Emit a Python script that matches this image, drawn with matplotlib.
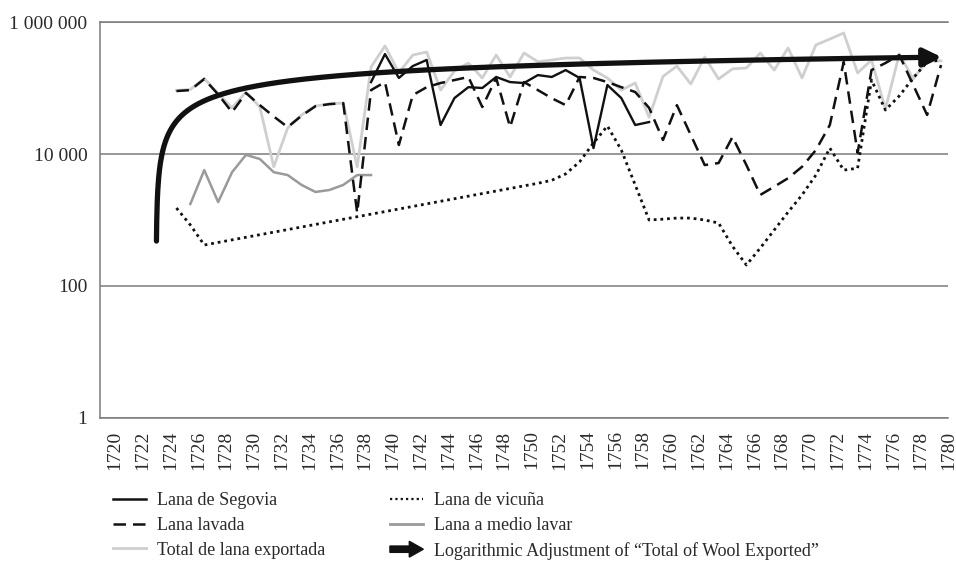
import numpy as np
import matplotlib
matplotlib.use('Agg')
import matplotlib.pyplot as plt
import matplotlib.patches as mpatches
from matplotlib.lines import Line2D
from matplotlib.legend_handler import HandlerPatch
from matplotlib.transforms import ScaledTranslation
from matplotlib.ticker import FixedLocator, NullLocator

plt.rcParams['font.family'] = ['Liberation Serif', 'DejaVu Serif']

# values (log scale, rough estimates)
years_lavada = list(range(1725, 1781))
lana_lavada = [90000, 93000, 137000, 80000, 43000, 84000, 55000, 37000, 25600, 38000,
               53000, 57000, 59000, 1280, 93000, 123000, 13700, 78000, 103000, 119000,
               132000, 147000, 51500, 142000, 25600, 123000, 93000, 70000, 55000, 147000,
               142000, 123000, 103000, 87000, 50000, 16300, 55000, 19400, 6800, 7300,
               18100, 6800, 2400, 3200, 4300, 6400, 11500, 27500, 248000, 10400,
               187000, 239000, 316000, 111000, 39000, 223000]

years_total = list(range(1725, 1781))
total_lana = [92000, 95000, 140000, 82000, 50000, 87000, 51500, 6400, 24800, 39000,
              53400, 57300, 59300, 6400, 208000, 434000, 170000, 316000, 351000, 93000,
              181000, 239000, 142000, 316000, 147000, 339000, 250000, 266000, 285000, 285000,
              187000, 142000, 93000, 119000, 36000, 150000, 215000, 115000, 295000, 137000,
              195000, 201000, 339000, 187000, 404000, 142000, 449000, 552000, 681000, 169000,
              266000, 48000, 327000, 137000, 258000, 258000]

years_segovia = list(range(1739, 1760))
lana_segovia = [123000, 327000, 142000, 215000, 266000, 27500, 70500, 103000, 100000, 147000,
                123000, 119000, 157000, 147000, 187000, 142000, 12300, 111000, 70500, 27500,
                30500]

years_medio = list(range(1726, 1740))
lana_medio = [1750, 5700, 1870, 5300, 9700, 8400, 5300, 4800, 3400, 2660,
              2850, 3400, 4800, 4800]

years_vicuna = [1725, 1726, 1727] + list(range(1751, 1781))
lana_vicuna = [1520, 840, 418,
               3600, 4000, 5000, 7600, 14700, 26600, 11500, 3400, 1000, 1030,
               1070, 1070, 1000, 900, 400, 208, 377, 705, 1320, 2390,
               4800, 12300, 5700, 6100, 132000, 46400, 76000, 142000, 248000, 266000]

# logarithmic trendline y = a*ln(x) + b, x = 1 at 1720 (coefficients)
trend_slope = 113000
trend_intercept = -171000
trend_floor = 480  # lowest point of the curve that shows on the log axis

tick_years = list(range(1720, 1781, 2))
y_ticks = [1, 100, 10000, 1000000]
y_labels = ['1', '100', '10 000', '1 000 000']

fig = plt.figure(figsize=(9.56, 5.69), dpi=100)
ax = fig.add_axes([0.1046, 0.2654, 0.8870, 0.6959])

ax.set_yscale('log')
ax.set_ylim(1, 1e6)
ax.set_xlim(1719.5, 1780.5)

ax.plot(years_total, total_lana, color='#cfcfcf', lw=2.0, zorder=2)
ax.plot(years_medio, lana_medio, color='#9a9a9a', lw=1.8, zorder=3)
ax.plot(years_vicuna, lana_vicuna, color='#111111', lw=2.0, ls=(0, (1, 1.4)), zorder=4)
ax.plot(years_lavada, lana_lavada, color='#111111', lw=1.8, ls=(0, (5, 2.8)), zorder=5)
ax.plot(years_segovia, lana_segovia, color='#111111', lw=1.7, zorder=6)

u0 = np.exp((trend_floor - trend_intercept) / trend_slope)
u = np.geomspace(u0, 1779.2 - 1719, 600)
ax.plot(1719 + u, trend_slope * np.log(u) + trend_intercept, color='#111111', lw=3.8,
        solid_capstyle='round', zorder=7)
x0, x1 = 1779.0, 1780.05
ax.annotate('', xy=(x1, trend_slope * np.log(x1 - 1719) + trend_intercept),
            xytext=(x0, trend_slope * np.log(x0 - 1719) + trend_intercept),
            arrowprops=dict(arrowstyle='-|>,head_length=0.9,head_width=0.45',
                            mutation_scale=12, lw=3.8, color='#111111',
                            shrinkA=0, shrinkB=0),
            zorder=8)

# axes styling
ax.spines['right'].set_visible(False)
for side in ['left', 'bottom', 'top']:
    ax.spines[side].set_color('#7a7a7a')
    ax.spines[side].set_linewidth(1.1)

ax.yaxis.set_major_locator(FixedLocator(y_ticks))
ax.yaxis.set_minor_locator(NullLocator())
ax.set_yticklabels(y_labels)
ax.set_xticks(tick_years)
ax.set_xticklabels([str(y) for y in tick_years], rotation=90)
ax.tick_params(axis='both', length=0, labelsize=14, labelcolor='#2a2a2a')
ax.tick_params(axis='y', pad=9)
ax.tick_params(axis='x', pad=9)
ax.grid(axis='y', color='#7a7a7a', lw=1.1)
ax.set_axisbelow(True)

shift = ScaledTranslation(8 / 100, 0, fig.dpi_scale_trans)
for lab in ax.get_xticklabels():
    lab.set_transform(lab.get_transform() + shift)


def make_legend_arrow(legend, orig_handle, xdescent, ydescent, width, height, fontsize):
    return mpatches.FancyArrow(0, 0.5 * height, width, 0, length_includes_head=True,
                               width=0.5 * height, head_width=1.25 * height,
                               head_length=0.42 * width)


handles = [
    Line2D([], [], color='#111111', lw=1.8),
    Line2D([], [], color='#111111', lw=1.8, ls=(0, (5, 2.8))),
    Line2D([], [], color='#cfcfcf', lw=2.0),
    Line2D([], [], color='#111111', lw=1.6, ls=(0, (1, 1.4))),
    Line2D([], [], color='#9a9a9a', lw=2.0),
    mpatches.FancyArrow(0, 0, 1, 0, color='#111111'),
]
labels = ['Lana de Segovia', 'Lana lavada', 'Total de lana exportada',
          'Lana de vicuña', 'Lana a medio lavar',
          'Logarithmic Adjustment of \u201cTotal of Wool Exported\u201d']

fig.legend(handles, labels, loc='upper left', bbox_to_anchor=(0.118, 0.1345),
           ncol=2, frameon=False, fontsize=13, borderpad=0, borderaxespad=0,
           handlelength=1.85, handletextpad=0.58, labelspacing=0.42, columnspacing=3.6,
           labelcolor='#2a2a2a',
           handler_map={mpatches.FancyArrow: HandlerPatch(patch_func=make_legend_arrow)})

plt.savefig('out.png', dpi=100)
